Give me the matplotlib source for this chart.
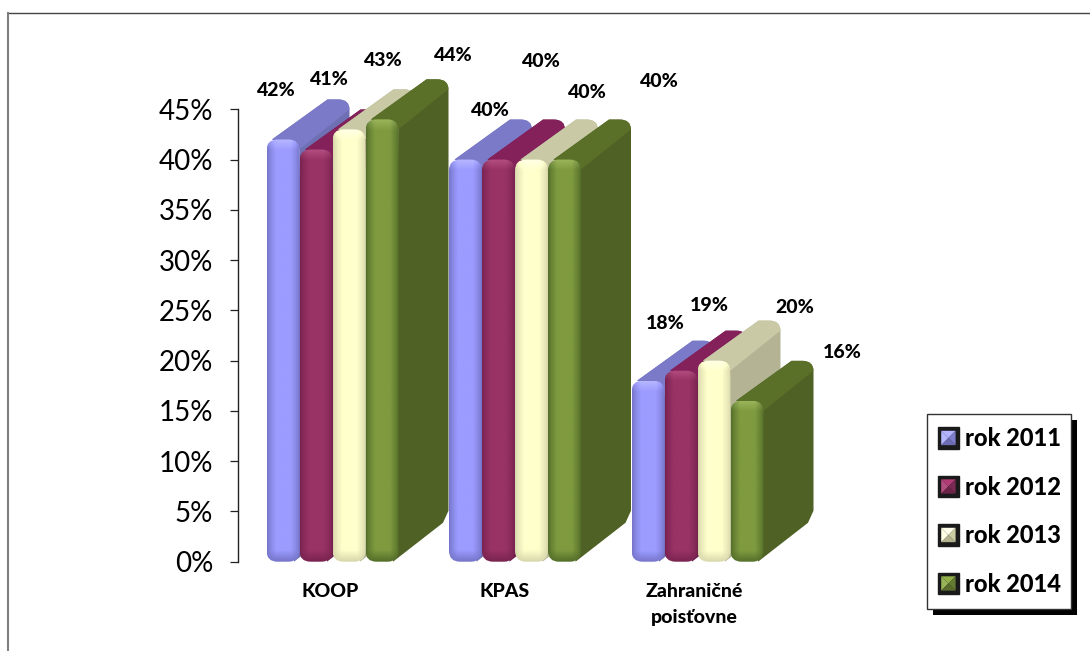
import numpy as np
import matplotlib
matplotlib.use("Agg")
import matplotlib.pyplot as plt
from matplotlib.legend_handler import HandlerPatch
from matplotlib.lines import Line2D
from matplotlib.patches import PathPatch, Patch, Polygon, Rectangle
from matplotlib.path import Path
from matplotlib.colors import to_rgb

plt.rcParams['font.family'] = ['Lato', 'DejaVu Sans']

categories = ['KOOP', 'KPAS', 'Zahraničné\npoisťovne']
years = ['rok 2011', 'rok 2012', 'rok 2013', 'rok 2014']
v2011 = [42, 40, 18]
v2012 = [41, 40, 19]
v2013 = [43, 40, 20]
v2014 = [44, 40, 16]
series = [v2011, v2012, v2013, v2014]

front_col = ['#9c9cff', '#993366', '#ffffcc', '#7f9a3f']
edge_col = ['#7676cc', '#7a2350', '#d8d8ac', '#55702a']
side_col = ['#6f6fb4', '#6f1e4b', '#b4b494', '#4f6124']
top_col = ['#7a7ac8', '#84205a', '#c9c9a6', '#5a7029']

# label offsets from front bar top centre, px
label_off = [[(-7, -49), (13, -70), (34, -69), (71, -64)],
             [(25, -49), (43, -98), (56, -67), (95, -78)],
             [(17, -57), (28, -65), (81, -53), (95, -48)]]

W, H = 1090, 651
fig = plt.figure(figsize=(W / 100, H / 100), dpi=100)

# pixel layout of the plot area
x_left, x_right, y_zero, y_top = 238, 880, 561.7, 109.3
ax = fig.add_axes([x_left / W, 1 - y_zero / H, (x_right - x_left) / W, (y_zero - y_top) / H])
px_cat = 182.5
px_val = (y_zero - y_top) / 45
ax.set_xlim((x_left - 332.5) / px_cat, (x_right - 332.5) / px_cat)
ax.set_ylim(0, 45)

bw = 33 / px_cat
dep_x = 50 / px_cat
dep_y = 40 / px_val
rx = 11 / px_cat
ry = 11 / px_val


def round_rect(x0, x1, y0, y1):
    # front face with round corners
    v = [(x0 + rx, y0), (x1 - rx, y0), (x1, y0), (x1, y0 + ry), (x1, y1 - ry), (x1, y1), (x1 - rx, y1),
         (x0 + rx, y1), (x0, y1), (x0, y1 - ry), (x0, y0 + ry), (x0, y0), (x0 + rx, y0), (x0 + rx, y0)]
    c = [Path.MOVETO, Path.LINETO, Path.CURVE3, Path.CURVE3, Path.LINETO, Path.CURVE3, Path.CURVE3,
         Path.LINETO, Path.CURVE3, Path.CURVE3, Path.LINETO, Path.CURVE3, Path.CURVE3, Path.CLOSEPOLY]
    return Path(v, c)


def silhouette(x0, x1, y0, y1):
    # side and top of the extruded bar, back corners rounded
    bx0, bx1 = x0 + dep_x, x1 + dep_x
    by0, by1 = y0 + dep_y, y1 + dep_y
    v = [(x1 - rx / 2, y0), (bx1 - rx / 2, by0 - ry * 0.1), (bx1, by0 + ry), (bx1, by1 - ry), (bx1, by1), (bx1 - rx, by1),
         (bx0 + rx, by1), (x0 + rx / 2, y1), (x1, y1), (x1 - rx / 2, y0)]
    c = [Path.MOVETO, Path.LINETO, Path.LINETO, Path.LINETO, Path.CURVE3, Path.CURVE3,
         Path.LINETO, Path.LINETO, Path.LINETO, Path.CLOSEPOLY]
    return Path(v, c)


def top_face(x0, x1, y1):
    bx0, bx1 = x0 + dep_x, x1 + dep_x
    by1 = y1 + dep_y
    v = [(x0 + rx / 2, y1), (bx0 + rx, by1), (bx1 - rx, by1), (bx1, by1), (bx1, by1 - ry * 0.9),
         (x1, y1 - ry * 0.9), (x0 + rx / 2, y1)]
    c = [Path.MOVETO, Path.LINETO, Path.LINETO, Path.CURVE3, Path.CURVE3, Path.LINETO, Path.CLOSEPOLY]
    return Path(v, c)


def front_image(col, edge, y1):
    # horizontal bevel plus lighter band under the top and darker foot
    nx, ny = 34, 200
    tx = np.clip(np.minimum(np.arange(nx), nx - 1 - np.arange(nx)) / 9.0, 0, 1) ** 0.8
    ypx = np.linspace(0, y1 * px_val, ny)
    foot = np.clip(ypx / 11.0, 0, 1)
    head = np.clip((y1 * px_val - ypx) / 10.0, 0, 1)
    t = np.outer(foot, tx)
    c0, c1 = np.array(to_rgb(edge)), np.array(to_rgb(col))
    img = c0[None, None, :] + t[:, :, None] * (c1 - c0)[None, None, :]
    img = img + (1 - head)[:, None, None] * 0.10
    return np.clip(img, 0, 1)


for g in range(len(categories)):
    for s in range(len(years)):
        val = series[s][g]
        x0 = g - 2 * bw + s * bw
        x1 = x0 + bw
        ax.add_patch(PathPatch(silhouette(x0, x1, 0, val), fc=side_col[s], ec='none', clip_on=False, zorder=2))
        ax.add_patch(PathPatch(top_face(x0, x1, val), fc=top_col[s], ec='none', clip_on=False, zorder=2))
        clip = PathPatch(round_rect(x0, x1, 0, val), fc='none', ec='none', transform=ax.transData)
        ax.add_patch(clip)
        im = ax.imshow(front_image(front_col[s], edge_col[s], val), origin='lower', aspect='auto',
                       extent=(x0, x1, 0, val), interpolation='bilinear', zorder=2, clip_on=True)
        im.set_clip_path(clip)
        off = label_off[g][s]
        ax.annotate(f'{val}%', xy=((x0 + x1) / 2, val), xytext=(off[0] * 0.72, -off[1] * 0.72),
                    textcoords='offset points', ha='center', va='center', fontsize=14,
                    fontweight='black', color='black', annotation_clip=False, zorder=5)

ax.set_xlim((x_left - 332.5) / px_cat, (x_right - 332.5) / px_cat)
ax.set_ylim(0, 45)
ax.patch.set_alpha(0)
for sp in ['top', 'right', 'bottom']:
    ax.spines[sp].set_visible(False)
ax.spines['left'].set_color('#222222')
ax.spines['left'].set_linewidth(1.0)

ax.set_yticks(np.arange(0, 46, 5))
ax.set_yticklabels([f'{t}%' for t in range(0, 46, 5)])
ax.tick_params(axis='y', length=5.8, width=0.9, color='#222222', pad=12, labelsize=20)
ax.set_xticks([-0.015, 0.945, 1.98])
ax.set_xticklabels(categories, fontweight='black', fontsize=14, linespacing=1.65)
ax.tick_params(axis='x', length=0, pad=15)


class PyramidHandler(HandlerPatch):
    # legend key drawn as a small bevelled square
    def create_artists(self, legend, orig, xd, yd, width, height, fontsize, trans):
        c = np.array(to_rgb(orig.get_facecolor()))
        s = height * 1.28
        x0 = -xd + (width - s) / 2
        y0 = -yd + (height - s) / 2
        back = Rectangle((x0, y0), s, s, fc='#1a1a1a', ec='#1a1a1a', lw=1.0, transform=trans)
        m = s * 0.16
        a, b, e, f = x0 + m, x0 + s - m, y0 + m, y0 + s - m
        mid = (x0 + s / 2, y0 + s / 2)
        tris = [([(a, f), (b, f), mid], np.clip(c * 1.15, 0, 1)),
                ([(a, e), (a, f), mid], np.clip(c * 1.0 + 0.1, 0, 1)),
                ([(b, e), (b, f), mid], c * 0.8),
                ([(a, e), (b, e), mid], c * 0.7)]
        arts = [back]
        for pts, col in tris:
            arts.append(Polygon(pts, closed=True, fc=col, ec='none', transform=trans))
        return arts


# legend box and its hard shadow, drawn under a frameless legend
box_x, box_y, box_w, box_h = 927, 414, 144, 195
fig.add_artist(Rectangle(((box_x + 6) / W, 1 - (box_y + box_h + 6) / H), box_w / W, box_h / H,
                         transform=fig.transFigure, fc='black', ec='none', zorder=3))
fig.add_artist(Rectangle((box_x / W, 1 - (box_y + box_h) / H), box_w / W, box_h / H,
                         transform=fig.transFigure, fc='white', ec='#333333', lw=1.0, zorder=4))

handles = [Patch(facecolor=c, label=y) for c, y in zip(front_col, years)]
leg = fig.legend(handles=handles, loc='center', bbox_to_anchor=((box_x + box_w / 2) / W, 1 - (box_y + box_h / 2) / H),
                 bbox_transform=fig.transFigure, frameon=False, borderaxespad=0, borderpad=0,
                 labelspacing=1.08, handlelength=0.95, handletextpad=0.22,
                 handler_map={Patch: PyramidHandler()},
                 prop={'weight': 'black', 'size': 17})
leg.set_zorder(6)

# outer frame, open at right and bottom
fig.add_artist(Line2D([7.5 / W, 1], [1 - 13 / H, 1 - 13 / H], color='#444444', lw=1.0))
fig.add_artist(Line2D([7.5 / W, 7.5 / W], [0, 1 - 13 / H], color='#7f7f7f', lw=1.5))

fig.savefig('out.png', dpi=100)
